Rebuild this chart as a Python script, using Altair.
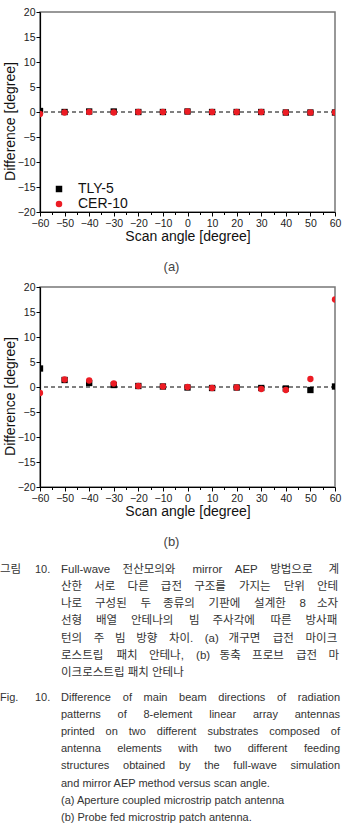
import altair as alt
import pandas as pd

# ---- data -------------------------------------------------------------
angles = list(range(-60, 61, 10))
series = ["TLY-5", "CER-10"]

# (a) aperture coupled patch
tly_a = [0.2, 0.0, 0.1, 0.1, 0.0, 0.0, 0.1, 0.0, 0.0, 0.0, -0.1, -0.1, -0.1]
cer_a = [-0.4, -0.1, 0.0, -0.1, 0.0, 0.0, 0.1, 0.0, 0.0, 0.0, -0.1, -0.1, -0.1]
# (b) probe fed patch
tly_b = [3.7, 1.4, 0.8, 0.4, 0.2, 0.1, -0.1, -0.2, -0.1, -0.2, -0.3, -0.6, 0.1]
cer_b = [-1.2, 1.5, 1.3, 0.7, 0.2, 0.1, 0.0, -0.2, -0.1, -0.4, -0.6, 1.6, 17.5]

x_ticks = list(range(-60, 61, 5))
y_ticks = list(range(-20, 21, 5))

kor_head = "그림"
eng_head = "Fig."
fig_num = "10."
kor_lines = [
    "Full-wave 전산모의와 mirror AEP 방법으로 계",
    "산한 서로 다른 급전 구조를 가지는 단위 안테",
    "나로 구성된 두 종류의 기판에 설계한 8 소자",
    "선형 배열 안테나의 빔 주사각에 따른 방사패",
    "턴의 주 빔 방향 차이. (a) 개구면 급전 마이크",
    "로스트립 패치 안테나, (b) 동축 프로브 급전 마",
    "이크로스트립 패치 안테나",
]
eng_lines = [
    "Difference of main beam directions of radiation",
    "patterns of 8-element linear array antennas",
    "printed on two different substrates composed of",
    "antenna elements with two different feeding",
    "structures obtained by the full-wave simulation",
    "and mirror AEP method versus scan angle.",
    "(a) Aperture coupled microstrip patch antenna",
    "(b) Probe fed microstrip patch antenna.",
]
kor_justified = 6   # first n Korean lines are justified
eng_justified = 5

FONT = "Liberation Sans"
CAP_FONT = "'Liberation Sans', 'Noto Sans CJK KR', sans-serif"
RED = "#ec1c24"

# ---- plot panels ------------------------------------------------------
def panel(tly, cer, tag):
    n = len(angles)
    df = pd.DataFrame({
        "angle": angles + angles,
        "diff": tly + cer,
        "series": [series[0]] * n + [series[1]] * n,
    })
    legend = alt.Legend(
        title=None, orient="none", legendX=12, legendY=170,
        labelFont=FONT, labelFontSize=14, labelColor="#111",
        symbolSize=42, symbolStrokeWidth=0, labelOffset=12,
        rowPadding=1, padding=0,
    )
    x = alt.X(
        "angle:Q",
        scale=alt.Scale(domain=[-60, 60], nice=False, zero=False),
        axis=alt.Axis(
            values=x_ticks,
            labelExpr="datum.value % 10 === 0 ? datum.label : ''",
            tickSize={"condition": {"test": "datum.value % 10 === 0", "value": 4}, "value": 2.5},
            labelOverlap=False, labelFlush=False,
            title="Scan angle [degree]",
        ),
    )
    y = alt.Y(
        "diff:Q",
        scale=alt.Scale(domain=[-20, 20], nice=False),
        axis=alt.Axis(values=y_ticks, title="Difference [degree]", tickSize=4,
                      labelOverlap=False, labelFlush=False, titleY=109),
    )
    zero = alt.Chart(pd.DataFrame({"diff": [0]})).mark_rule(
        color="black", strokeDash=[4, 3], strokeWidth=1
    ).encode(y=y)
    pts = alt.Chart(df).mark_point(
        filled=True, opacity=1, size=40, strokeWidth=0, clip=True
    ).encode(
        x=x,
        y=y,
        shape=alt.Shape("series:N", scale=alt.Scale(domain=series, range=["square", "circle"]), legend=legend),
        color=alt.Color("series:N", scale=alt.Scale(domain=series, range=["black", RED]), legend=legend),
    )
    return alt.layer(zero, pts).properties(
        width=295, height=200,
        title=alt.TitleParams(
            tag, orient="bottom", anchor="middle", offset=17, dx=-16,
            font=FONT, fontSize=13, fontWeight="normal", color="#444",
        ),
    )

# ---- caption ----------------------------------------------------------
ARIAL = {
    " ": 278, "!": 278, "(": 333, ")": 333, ",": 278, "-": 333, ".": 278,
    "[": 278, "]": 278,
    "A": 667, "B": 667, "C": 722, "D": 722, "E": 667, "F": 611, "G": 778,
    "H": 722, "I": 278, "J": 500, "K": 667, "L": 556, "M": 833, "N": 722,
    "O": 778, "P": 667, "Q": 778, "R": 722, "S": 667, "T": 611, "U": 722,
    "V": 667, "W": 944, "X": 667, "Y": 667, "Z": 611,
    "a": 556, "b": 556, "c": 500, "d": 556, "e": 556, "f": 278, "g": 556,
    "h": 556, "i": 222, "j": 222, "k": 500, "l": 222, "m": 833, "n": 556,
    "o": 556, "p": 556, "q": 556, "r": 333, "s": 500, "t": 278, "u": 556,
    "v": 500, "w": 722, "x": 500, "y": 500, "z": 500,
}


def text_width(s, size):
    w = 0.0
    for ch in s:
        if "\uac00" <= ch <= "\ud7a3":
            w += size
        else:
            w += size * ARIAL.get(ch, 556) / 1000
    return w


BODY_LEFT, BODY_RIGHT = 21, 300
HEAD_X, NUM_X = -40, -5
KOR_SIZE, ENG_SIZE = 11.5, 11
ENG_ROW0 = 7.45


def layout_line(text, row, size, justify):
    words = text.split(" ")
    if not justify or len(words) < 2:
        return [{"row": row, "x": BODY_LEFT, "t": text, "fs": size}]
    widths = [text_width(w, size) for w in words]
    gap = (BODY_RIGHT - BODY_LEFT - sum(widths)) / (len(words) - 1)
    out, pos = [], BODY_LEFT
    for w, wd in zip(words, widths):
        out.append({"row": row, "x": pos, "t": w, "fs": size})
        pos += wd + gap
    return out


cap_rows = []
for i, line in enumerate(kor_lines):
    cap_rows += layout_line(line, i, KOR_SIZE, i < kor_justified)
for j, line in enumerate(eng_lines):
    cap_rows += layout_line(line, ENG_ROW0 + j, ENG_SIZE, j < eng_justified)
cap_rows += [
    {"row": 0, "x": HEAD_X, "t": kor_head, "fs": KOR_SIZE},
    {"row": 0, "x": NUM_X, "t": fig_num, "fs": ENG_SIZE},
    {"row": ENG_ROW0, "x": HEAD_X, "t": eng_head, "fs": ENG_SIZE},
    {"row": ENG_ROW0, "x": NUM_X, "t": fig_num, "fs": ENG_SIZE},
]
cap_df = pd.DataFrame(cap_rows)

last_row = ENG_ROW0 + len(eng_lines) - 1
ROW_H = 17.15
TOP = 14
caption = alt.Chart(cap_df).mark_text(
    align="left", baseline="middle", font=CAP_FONT, color="#333"
).encode(
    x=alt.X("x:Q", scale=None),
    y=alt.Y("row:Q", axis=None,
            scale=alt.Scale(domain=[0, last_row], range=[TOP, TOP + last_row * ROW_H])),
    text="t:N",
    size=alt.Size("fs:Q", scale=None, legend=None),
).properties(width=295, height=268, view=alt.ViewBackground(strokeOpacity=0))

chart = alt.vconcat(
    panel(tly_a, cer_a, "(a)"),
    panel(tly_b, cer_b, "(b)"),
    caption,
    spacing=6,
).properties(
    padding={"left": 0, "top": 6, "right": 0, "bottom": 0},
    background="white",
).configure_axis(
    grid=False,
    labelFont=FONT, labelFontSize=10.5, labelColor="#222",
    titleFont=FONT, titleFontSize=14, titleFontWeight="normal", titleColor="#111",
    domainColor="black", domainWidth=1.2, tickColor="black", tickWidth=1,
).configure_axisX(
    titlePadding=1, labelPadding=2,
).configure_axisY(
    titlePadding=0, labelPadding=1,
).configure_view(
    stroke="#777", strokeWidth=1.5,
)

chart.save("out.html", embed_options={"renderer": "svg", "actions": False})
